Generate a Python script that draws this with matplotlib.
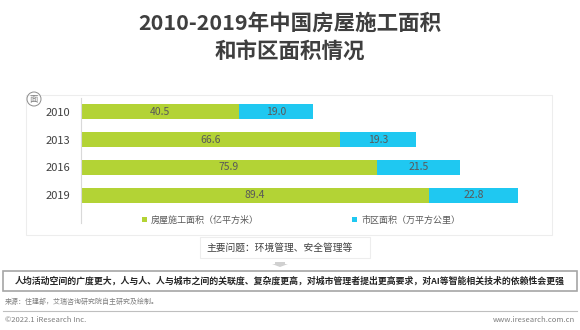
import numpy as np
import matplotlib.pyplot as plt
from matplotlib.patches import Rectangle, Ellipse, FancyArrow

plt.rcParams['font.family'] = ['Noto Sans CJK SC', 'DejaVu Sans']

years = ['2010', '2013', '2016', '2019']
building_area = [40.5, 66.6, 75.9, 89.4]   # 房屋施工面积（亿平方米）
urban_area = [19.0, 19.3, 21.5, 22.8]      # 市区面积（万平方公里）
series_names = ['房屋施工面积（亿平方米）', '市区面积（万平方公里）']

GREEN = '#B3D335'
CYAN = '#1FC8F1'
W, H = 580, 330

fig = plt.figure(figsize=(5.8, 3.3), dpi=100)


def px(x, y):
    # pixel coords (top-left origin) -> figure fraction
    return x / W, 1 - y / H


def frame(x0, y0, x1, y1, color, lw):
    fig.patches.append(Rectangle(px(x0, y1), (x1 - x0) / W, (y1 - y0) / H,
                                 transform=fig.transFigure, fill=False,
                                 edgecolor=color, linewidth=lw))


# title
fig.text(*px(290, 23), '2010-2019年中国房屋施工面积', ha='center', va='center',
         fontsize=15.5, fontweight='bold', color='#3F3F3F')
fig.text(*px(290, 51), '和市区面积情况', ha='center', va='center',
         fontsize=15.5, fontweight='bold', color='#3F3F3F')

# chart panel
frame(26, 95, 552, 235, '#EDEDED', 0.8)
fig.patches.append(Ellipse(px(34, 99), 14 / W, 14 / H, transform=fig.transFigure,
                           fill=False, edgecolor='#8C8C8C', linewidth=0.7))
fig.text(*px(34, 99), '面', ha='center', va='center', fontsize=6, color='#7F7F7F')

ax = fig.add_axes([81 / W, 1 - 209 / H, (540 - 81) / W, (209 - 98) / H])
y = np.arange(len(years))
ax.barh(y, building_area, height=0.54, color=GREEN, label=series_names[0])
ax.barh(y, urban_area, left=building_area, height=0.54, color=CYAN, label=series_names[1])
for i in range(len(years)):
    ax.text(building_area[i] / 2, y[i], f'{building_area[i]:.1f}', ha='center', va='center',
            fontsize=7.5, color='#595959')
    ax.text(building_area[i] + urban_area[i] / 2, y[i], f'{urban_area[i]:.1f}', ha='center',
            va='center', fontsize=7.5, color='#595959')
ax.set_xlim(0, (540 - 81) / 3.895)
ax.set_ylim(3.5, -0.5)
ax.set_yticks(y)
ax.set_yticklabels(years, fontsize=8, color='#404040')
ax.tick_params(axis='y', length=0, pad=8)
ax.set_xticks([])
for s in ['top', 'right', 'bottom']:
    ax.spines[s].set_visible(False)
ax.spines['left'].set_color('#D9D9D9')
ax.spines['left'].set_linewidth(0.8)
ax.spines['left'].set_bounds(4.0, -0.5)

# legend
handles, labels = ax.get_legend_handles_labels()
fig.legend(handles, labels, loc='center', bbox_to_anchor=px(301, 220), ncol=2,
           frameon=False, fontsize=6.5, handlelength=0.6, handleheight=0.6,
           columnspacing=10.3, handletextpad=0.4, labelcolor='#595959')

# issue box
frame(200, 237, 370, 258, '#EDEDED', 0.8)
fig.text(*px(206, 247.5), '主要问题：环境管理、安全管理等', ha='left', va='center',
         fontsize=7, color='#404040')
fig.patches.append(FancyArrow(*px(280, 262), 0, -5 / H, width=10 / W, head_width=16 / W,
                              head_length=3 / H, length_includes_head=True,
                              transform=fig.transFigure, color='#D0D0D0', linewidth=0))

# conclusion box
frame(3, 271, 577, 291, '#A6A6A6', 1.2)
fig.text(*px(290, 281), '人均活动空间的广度更大，人与人、人与城市之间的关联度、复杂度更高，对城市管理者提出更高要求，对AI等智能相关技术的依赖性会更强',
         ha='center', va='center', fontsize=6.4, fontweight='bold', color='#262626')

# footer
fig.text(*px(5, 302), '来源：住建部，艾瑞咨询研究院自主研究及绘制。', ha='left', va='center',
         fontsize=5, color='#7F7F7F')
fig.lines.append(plt.Line2D([3 / W, 577 / W], [1 - 311 / H, 1 - 311 / H],
                            transform=fig.transFigure, color='#BFBFBF', linewidth=0.8))
fig.text(*px(5, 320), '©2022.1 iResearch Inc.', ha='left', va='center',
         fontsize=5.5, color='#7F7F7F')
fig.text(*px(575, 320), 'www.iresearch.com.cn', ha='right', va='center',
         fontsize=5.5, color='#7F7F7F')

fig.savefig('out.png', dpi=100)
